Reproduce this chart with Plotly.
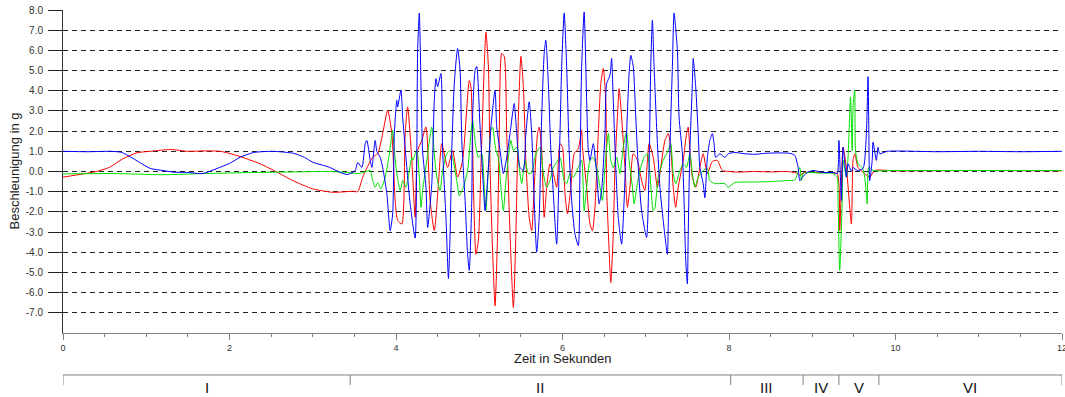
import plotly.graph_objects as go

# ---------------- data ----------------
blue_t = [0.00, 0.30, 0.57, 0.70, 0.80, 0.92, 1.05, 1.20, 1.32, 1.50, 1.68, 1.85, 2.00, 2.13, 2.29, 2.52, 2.77, 2.90, 3.00, 3.20, 3.33, 3.42,
          3.51, 3.54, 3.59, 3.63, 3.65, 3.69, 3.71, 3.75, 3.77, 3.81, 3.84, 3.89, 3.93, 3.96, 3.98, 4.01, 4.02, 4.06, 4.08, 4.13, 4.17, 4.23,
          4.25, 4.26, 4.28, 4.30, 4.32, 4.36, 4.38, 4.43, 4.46, 4.48, 4.50, 4.54, 4.56, 4.60, 4.63, 4.65, 4.67, 4.70, 4.74, 4.77, 4.79, 4.83,
          4.86, 4.88, 4.91, 4.92, 4.95, 4.97, 5.01, 5.05, 5.07, 5.11, 5.14, 5.19, 5.21, 5.25, 5.29, 5.33, 5.37, 5.42, 5.45, 5.49, 5.53, 5.56,
          5.60, 5.63, 5.66, 5.69, 5.72, 5.75, 5.78, 5.80, 5.83, 5.86, 5.89, 5.93, 5.97, 5.99, 6.02, 6.05, 6.08, 6.11, 6.15, 6.19, 6.21, 6.23,
          6.26, 6.29, 6.31, 6.33, 6.37, 6.41, 6.44, 6.47, 6.51, 6.53, 6.57, 6.59, 6.61, 6.64, 6.67, 6.71, 6.74, 6.77, 6.80, 6.82, 6.85, 6.88,
          6.91, 6.95, 7.01, 7.04, 7.06, 7.08, 7.10, 7.14, 7.17, 7.21, 7.26, 7.27, 7.29, 7.32, 7.34, 7.38, 7.40, 7.44, 7.46, 7.48, 7.50, 7.51,
          7.53, 7.56, 7.57, 7.60, 7.63, 7.65, 7.69, 7.71, 7.74, 7.77, 7.80, 7.82, 7.84, 7.89, 7.95, 7.99,
          8.07, 8.19, 8.31, 8.43, 8.60, 8.73, 8.79, 8.83, 8.85, 8.88, 8.94,
          9.01, 9.13, 9.25, 9.30,
          9.32, 9.35, 9.37, 9.41, 9.43, 9.47, 9.49, 9.54, 9.61, 9.65, 9.67, 9.68, 9.69, 9.72, 9.73, 9.77, 9.79, 9.81,
          9.90, 10.50, 11.00, 11.50, 12.00]
blue_v = [1.00, 0.98, 1.00, 0.95, 0.75, 0.45, 0.15, 0.05, -0.03, -0.05, -0.10, 0.15, 0.40, 0.71, 0.94, 1.00, 0.90, 0.70, 0.46, 0.21, -0.05, -0.15,
          0.05, 0.45, 0.20, 1.38, 1.54, 0.55, 0.20, 1.54, 1.00, 0.70, 0.20, -1.10, -2.93, -2.10, 1.88, 3.53, 3.20, 4.04, 2.70, 0.20, -1.60, -3.30,
          1.00, 6.00, 7.85, 4.35, 1.00, -0.78, -2.77, -0.60, 3.53, 4.60, 4.20, 4.85, 1.04, -2.27, -5.30, -3.10, 1.04, 4.35, 6.10, 5.00, 1.54, -1.44,
          -4.10, -4.90, -1.44, 2.70, 5.00, 5.20, 2.20, -0.78, -1.94, 0.20, 2.20, 4.04, 2.20, 1.04, -0.10, 0.70, 1.88, 3.37, 1.88, 0.20, 0.05, 1.88,
          3.45, 1.88, -1.44, -4.00, -2.27, 2.70, 5.85, 6.50, 4.35, 1.04, -1.10, -3.60, 1.88, 5.20, 7.85, 5.20, 1.04, -1.44, -3.10, -3.67, 0.20, 5.20,
          7.90, 3.53, 1.04, 0.55, 1.38, -0.10, -1.60, -0.94, 1.88, 4.35, 4.76, 5.60, 3.53, 0.20, -2.27, -3.60, -1.44, 1.88, 4.85, 5.76, 5.20, 2.70,
          0.20, -1.94, -3.27, 0.20, 5.20, 7.50, 5.20, 1.38, -0.78, -2.43, -4.10, -2.77, 1.04, 5.20, 7.85, 6.00, 2.70, 0.88, -1.44, -4.40, -5.57, -3.10,
          1.04, 4.35, 5.60, 4.20, 1.88, 0.20, -0.60, -1.30, 0.70, 1.54, 1.88, 1.38, 0.70, 0.88, 0.70, 0.88,
          0.94, 0.88, 0.85, 0.90, 0.92, 0.90, 0.80, 0.20, -0.45, -0.30, -0.05,
          0.05, -0.05, -0.05, -0.10,
          1.54, -1.44, 1.20, -0.28, 0.38, 0.00, 0.20, 0.05, 0.15, 1.88, 4.70, 1.88, -0.45, 0.55, 1.45, 0.55, 1.20, 0.88,
          1.00, 0.98, 1.00, 0.98, 1.00]

red_t = [0.00, 0.24, 0.40, 0.56, 0.72, 0.89, 1.05, 1.29, 1.50, 1.70, 1.89, 2.09, 2.37, 2.57, 2.76, 3.00, 3.24, 3.48, 3.54,
         3.60, 3.72, 3.78, 3.84, 3.90, 3.95, 3.99, 4.02, 4.07, 4.11, 4.14, 4.19, 4.23, 4.26, 4.31, 4.36, 4.41, 4.46, 4.51, 4.55, 4.62,
         4.68, 4.74, 4.80, 4.88, 4.90, 4.93, 4.96, 4.99, 5.02, 5.06, 5.08, 5.11, 5.13, 5.16, 5.19, 5.22, 5.24, 5.27, 5.30, 5.33, 5.37,
         5.41, 5.44, 5.47, 5.50, 5.53, 5.56, 5.60, 5.63, 5.66, 5.70, 5.72, 5.75, 5.78, 5.81, 5.85, 5.89, 5.93, 5.97, 6.00, 6.03, 6.06,
         6.10, 6.14, 6.19, 6.23, 6.24, 6.29, 6.33, 6.36, 6.39, 6.43, 6.46, 6.49, 6.52, 6.53, 6.56, 6.58, 6.61, 6.63, 6.67, 6.68, 6.71,
         6.75, 6.78, 6.81, 6.85, 6.90, 6.95, 6.99, 7.04, 7.09, 7.14, 7.17, 7.23, 7.27, 7.30, 7.33, 7.36, 7.39, 7.45, 7.49, 7.51, 7.53,
         7.56, 7.60, 7.65, 7.69, 7.74, 7.80, 7.86, 7.92, 8.00,
         8.10, 8.30, 8.50, 8.70, 8.83, 8.85, 8.90,
         9.00, 9.20, 9.30,
         9.33, 9.37, 9.41, 9.47, 9.49, 9.51, 9.55, 9.60, 9.69, 9.75,
         10.00, 11.00, 12.00]
red_v = [-0.28, -0.12, 0.00, 0.21, 0.63, 0.93, 1.00, 1.09, 1.00, 1.02, 1.00, 0.79, 0.38, -0.03, -0.45, -0.86, -1.03, -0.98, -1.00,
         -0.28, 0.71, 0.88, 1.88, 3.03, 1.88, -1.44, -2.43, -2.60, 1.88, 3.20, 0.55, -2.27, 1.04, 1.54, 2.20, -1.44, -2.93, -0.60, 1.38, 0.20,
         1.04, -0.28, 0.55, 4.50, 4.20, -0.78, -4.10, -3.40, 0.20, 5.20, 6.90, 5.20, 0.20, -3.90, -6.65, -3.10, 1.88, 5.85, 5.70, 1.88, -3.10,
         -6.74, -3.10, 2.70, 5.70, 4.20, 0.55, -2.27, -2.93, -0.78, 1.88, 2.20, 1.04, -2.27, -0.78, 0.38, -0.10, -0.78, 1.38, 1.20, -1.10, -2.10,
         -0.78, 0.88, 1.13, 2.04, 1.20, -0.78, -2.60, -2.93, -1.77, 1.88, 4.35, 5.10, 3.53, -0.78, -3.90, -5.50, -3.10, 0.20, 3.53, 4.10, 2.70,
         0.20, -1.77, -0.78, 0.88, 0.55, -0.45, -0.94, 1.38, 0.70, -0.78, -0.10, 1.54, 1.88, 1.20, -0.78, -1.77, -0.78, 0.55, 1.88, 2.20, 1.04,
         -0.28, -0.78, 0.20, 0.88, -0.10, 0.50, 0.55, 0.05, 0.00,
         -0.03, 0.00, -0.02, 0.00, -0.10, -0.20, -0.05,
         -0.05, -0.05, -0.10,
         -2.93, 1.20, 0.20, -2.60, 0.55, 0.88, 0.20, 0.00, -0.28, 0.05,
         0.03, 0.05, 0.03]

green_t = [0.00, 0.60, 1.20, 1.70, 2.30, 2.80, 3.20, 3.42, 3.54, 3.61, 3.69,
           3.72, 3.75, 3.78, 3.82, 3.87, 3.92, 3.96, 3.98, 4.01, 4.05, 4.08, 4.12, 4.14, 4.19, 4.20, 4.25, 4.28, 4.30, 4.32, 4.37, 4.43,
           4.46, 4.49, 4.53, 4.56, 4.61, 4.65, 4.68, 4.73, 4.76, 4.81, 4.86, 4.90, 4.92, 4.96, 4.99, 5.03, 5.06, 5.08, 5.11, 5.14, 5.16,
           5.20, 5.23, 5.26, 5.29, 5.32, 5.35, 5.38, 5.41, 5.45, 5.48, 5.51, 5.55, 5.59, 5.63, 5.68, 5.73, 5.77, 5.81, 5.85, 5.89, 5.93,
           5.97, 6.02, 6.05, 6.09, 6.13, 6.19, 6.23, 6.26, 6.29, 6.33, 6.37, 6.41, 6.45, 6.48, 6.51, 6.55, 6.58, 6.61, 6.65, 6.69, 6.73,
           6.77, 6.80, 6.84, 6.86, 6.90, 6.94, 6.98, 7.02, 7.05, 7.09, 7.11, 7.15, 7.21, 7.27, 7.30, 7.33, 7.36, 7.41, 7.45, 7.49, 7.53,
           7.56, 7.59, 7.63, 7.69, 7.74, 7.77, 7.83, 7.95, 7.99, 8.07,
           8.30, 8.50, 8.70, 8.79, 8.85, 8.87, 8.89, 8.97,
           9.10, 9.25, 9.30,
           9.31, 9.33, 9.36, 9.37, 9.41, 9.43, 9.46, 9.48, 9.49, 9.51, 9.52, 9.55, 9.60, 9.63, 9.66, 9.68, 9.73,
           10.00, 11.00, 12.00]
green_v = [-0.12, -0.10, -0.16, -0.10, -0.05, -0.02, 0.00, -0.05, -0.10, -0.05, 0.05,
           -0.45, -0.78, -0.55, -0.85, -0.28, 0.88, 2.04, 1.04, -0.10, -0.94, -0.45, -0.78, -0.45, 0.70, 0.55, 1.04, -0.28, -1.77, -0.94, 0.55, 2.20,
           0.88, -0.28, -0.94, 0.05, 0.88, 1.04, 0.70, -0.45, -1.20, -0.78, 0.05, 1.88, 2.53, 1.20, 0.70, 0.88, -0.78, -1.94, 0.20, 2.04, 2.20,
           1.04, 0.70, -0.78, -1.94, -0.45, 0.70, 1.54, 1.04, 1.20, 0.20, -0.60, 0.55, -0.10, -0.05, 0.88, 1.20, -0.10, -0.78, -0.45, 0.20, 0.45,
           0.70, -0.45, -0.60, -0.10, -0.28, 0.20, 0.55, -1.94, -0.78, 0.55, 0.70, 0.20, -0.78, -1.44, 0.20, 1.88, 0.55, 0.20, 0.70, -0.10, 1.20,
           1.95, 0.55, -0.78, -1.60, -0.60, 0.20, 0.70, 0.88, -0.10, -1.94, -1.80, -0.28, 0.55, 1.04, 1.38, -0.10, -0.60, 0.05, 0.38, 0.20, 0.88,
           -0.10, -0.78, -0.28, 0.05, 0.15, -0.45, -0.60, -0.60, -0.78, -0.55,
           -0.52, -0.50, -0.45, -0.42, 0.20, -0.45, -0.10, -0.05,
           -0.08, -0.10, -0.28,
           -1.44, -4.90, -1.44, 0.55, -0.28, 0.70, 3.70, 1.04, 3.20, 4.04, 1.04, 0.38, 0.20, -0.28, -1.60, 0.20, 0.05,
           0.05, 0.05, 0.05]

y_tick_vals = [-7, -6, -5, -4, -3, -2, -1, 0, 1, 2, 3, 4, 5, 6, 7, 8]
x_tick_vals = [0, 2, 4, 6, 8, 10, 12]
phase_bounds = [0.0, 3.45, 8.02, 8.89, 9.32, 9.80, 12.0]
phase_labels = ["I", "II", "III", "IV", "V", "VI"]

FONT = "Liberation Sans, Arial, sans-serif"

fig = go.Figure()
for t, v, col in [(red_t, red_v, "#ff0000"), (green_t, green_v, "#00e000"), (blue_t, blue_v, "#0000ff")]:
    fig.add_trace(go.Scatter(x=t, y=v, mode="lines",
                             line=dict(color=col, width=1, shape="spline", smoothing=0.6),
                             showlegend=False, hoverinfo="skip"))

fig.update_layout(
    width=1065, height=397,
    margin=dict(l=63, r=3, t=10, b=64, autoexpand=False),
    paper_bgcolor="white", plot_bgcolor="white",
    font=dict(family=FONT, color="#333333"),
    showlegend=False,
)

fig.update_xaxes(
    range=[0, 12], tickvals=x_tick_vals, ticktext=[str(v) for v in x_tick_vals],
    showgrid=False, zeroline=False, showline=True, linecolor="#808080", linewidth=1,
    ticks="outside", ticklen=6, tickcolor="#808080", tickwidth=1,
    minor=dict(dtick=0.5, ticks="outside", ticklen=3, tickcolor="#808080", showgrid=False),
    tickfont=dict(size=9, color="#333333", family=FONT), automargin=False,
    ticklabeloverflow="allow",
)
fig.update_yaxes(
    range=[-8, 8], tickvals=y_tick_vals, ticktext=[f"{v:.1f}" for v in y_tick_vals],
    showgrid=True, gridcolor="#222222", gridwidth=1, griddash="5px,4px",
    zeroline=False, showline=True, linecolor="#333333", linewidth=1,
    ticks="outside", ticklen=14, tickcolor="#222222", tickwidth=1,
    tickfont=dict(size=10, color="#333333", family=FONT), automargin=False,
    ticklabelstandoff=3,
)

# axis titles
fig.add_annotation(text="Zeit in Sekunden", xref="paper", yref="paper", x=0.5, y=-0.0774,
                   xanchor="center", yanchor="middle", showarrow=False,
                   font=dict(size=13, color="#222222", family=FONT))
fig.add_annotation(text="Beschleunigung in g", xref="paper", yref="paper", x=0, y=0.5,
                   xshift=-49, xanchor="center", yanchor="middle", textangle=-90, showarrow=False,
                   font=dict(size=13, color="#222222", family=FONT))

# phase bar
bar_y = -0.130
tick_y = -0.161
fig.add_shape(type="line", xref="x", yref="paper", x0=phase_bounds[0], x1=phase_bounds[-1],
              y0=bar_y, y1=bar_y, line=dict(color="#808080", width=1))
for b in phase_bounds:
    fig.add_shape(type="line", xref="x", yref="paper", x0=b, x1=b, y0=bar_y, y1=tick_y,
                  line=dict(color="#808080", width=1))
for i, lab in enumerate(phase_labels):
    fig.add_annotation(text=lab, xref="x", yref="paper",
                       x=(phase_bounds[i] + phase_bounds[i + 1]) / 2, y=-0.169,
                       xanchor="center", yanchor="middle", showarrow=False,
                       font=dict(size=15, color="#111111", family=FONT))

fig.write_html("out.html")
